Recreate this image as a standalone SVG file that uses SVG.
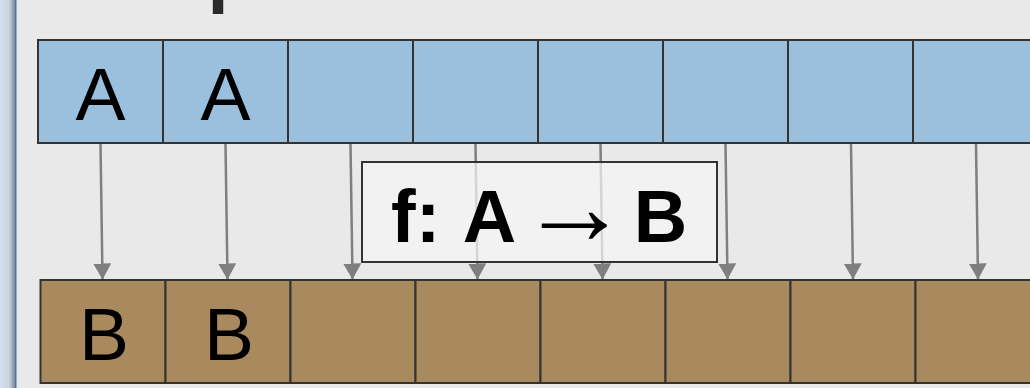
<svg xmlns="http://www.w3.org/2000/svg" width="1030" height="388" viewBox="0 0 1030 388">
  <defs>
    <linearGradient id="sideGrad" x1="0" y1="0" x2="1" y2="0">
      <stop offset="0" stop-color="#d3e1ec"/>
      <stop offset="0.6" stop-color="#c8d6e2"/>
      <stop offset="0.85" stop-color="#9aa6b0"/>
      <stop offset="1" stop-color="#7f8a94"/>
    </linearGradient>
    <!-- arrowhead drawn along +x; orient=auto turns it along the line -->
    <marker id="head" viewBox="0 0 16 18" refX="15.5" refY="9" markerWidth="16" markerHeight="18" markerUnits="userSpaceOnUse" orient="auto">
      <path d="M0,0 L16,9 L0,18 Z" fill="#7f7f7f"/>
    </marker>
  </defs>
  <style>
    .cellA { fill: #9bc0de; stroke: #333; stroke-width: 2; }
    .cellB { fill: #a98a5e; stroke: #333; stroke-width: 2; }
    .big { font-family: "Liberation Sans", Arial, sans-serif; font-size: 75px; fill: #000; text-anchor: middle; }
    .conn { stroke: #7f7f7f; stroke-width: 2.5; fill: none; }
    .fn { font-family: "Liberation Sans", Arial, sans-serif; font-size: 74px; font-weight: bold; fill: #000; }
  </style>

  <!-- page background and window edge -->
  <rect x="0" y="0" width="1030" height="388" fill="#e9e9e9"/>
  <rect x="0" y="0" width="15" height="388" fill="url(#sideGrad)"/>
  <rect x="15" y="0" width="1.5" height="388" fill="#4a78a3"/>

  <!-- slide title (mostly above the visible area) -->
  <text x="102" y="-2" font-family="Liberation Sans, Arial, sans-serif" font-size="76" font-weight="bold" fill="#2b2b2b">Map</text>

  <!-- input array -->
  <g id="input">
    <g id="a0"><rect class="cellA" x="38" y="40" width="125" height="103"/><text class="big" x="100.5" y="120">A</text></g>
    <g id="a1"><rect class="cellA" x="163" y="40" width="125" height="103"/><text class="big" x="225.5" y="120">A</text></g>
    <g id="a2"><rect class="cellA" x="288" y="40" width="125" height="103"/></g>
    <g id="a3"><rect class="cellA" x="413" y="40" width="125" height="103"/></g>
    <g id="a4"><rect class="cellA" x="538" y="40" width="125" height="103"/></g>
    <g id="a5"><rect class="cellA" x="663" y="40" width="125" height="103"/></g>
    <g id="a6"><rect class="cellA" x="788" y="40" width="125" height="103"/></g>
    <g id="a7"><rect class="cellA" x="913" y="40" width="125" height="103"/></g>
  </g>

  <!-- output array -->
  <g id="output">
    <g id="b0"><rect class="cellB" x="40.5" y="280" width="125" height="103"/><text class="big" x="104" y="360">B</text></g>
    <g id="b1"><rect class="cellB" x="165.5" y="280" width="125" height="103"/><text class="big" x="229" y="360">B</text></g>
    <g id="b2"><rect class="cellB" x="290.5" y="280" width="125" height="103"/></g>
    <g id="b3"><rect class="cellB" x="415.5" y="280" width="125" height="103"/></g>
    <g id="b4"><rect class="cellB" x="540.5" y="280" width="125" height="103"/></g>
    <g id="b5"><rect class="cellB" x="665.5" y="280" width="125" height="103"/></g>
    <g id="b6"><rect class="cellB" x="790.5" y="280" width="125" height="103"/></g>
    <g id="b7"><rect class="cellB" x="915.5" y="280" width="125" height="103"/></g>
  </g>

  <!-- element-wise mapping arrows -->
  <g id="connectors" marker-end="url(#head)">
    <line class="conn" x1="100.5" y1="144" x2="102.5" y2="279"/>
    <line class="conn" x1="225.5" y1="144" x2="227.5" y2="279"/>
    <line class="conn" x1="350.5" y1="144" x2="352.5" y2="279"/>
    <line class="conn" x1="475.5" y1="144" x2="477.5" y2="279"/>
    <line class="conn" x1="600.5" y1="144" x2="602.5" y2="279"/>
    <line class="conn" x1="725.5" y1="144" x2="727.5" y2="279"/>
    <line class="conn" x1="851" y1="144" x2="853" y2="279"/>
    <line class="conn" x1="976" y1="144" x2="978" y2="279"/>
  </g>

  <!-- function label -->
  <g id="func">
    <rect x="362" y="162" width="355" height="100" fill="#f5f5f5" fill-opacity="0.72" stroke="#333" stroke-width="2"/>
    <text class="fn" x="391" y="242">f:</text>
    <text class="fn" x="489.5" y="242" text-anchor="middle">A</text>
    <text x="574.5" y="244" font-family="Liberation Sans, Arial, sans-serif" font-size="110" fill="#000" text-anchor="middle">→</text>
    <text class="fn" x="660.5" y="242" text-anchor="middle">B</text>
  </g>
</svg>
